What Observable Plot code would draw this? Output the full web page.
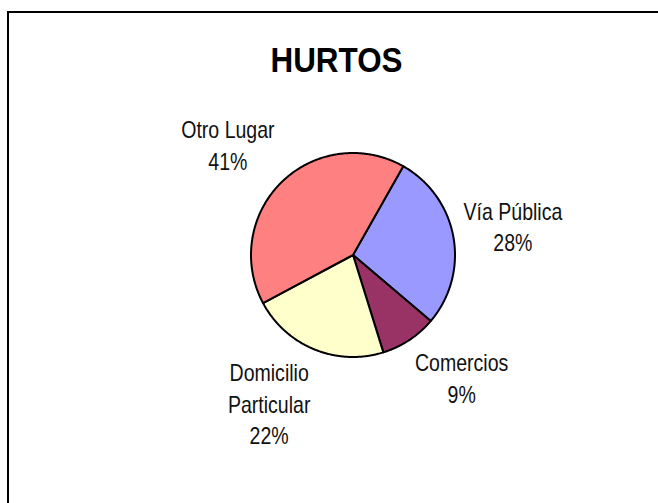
<!DOCTYPE html>
<html><head><meta charset="utf-8">
<script src="https://cdn.jsdelivr.net/npm/d3@7"></script>
<script src="https://cdn.jsdelivr.net/npm/@observablehq/plot@0.6"></script>
<style>
html,body{margin:0;padding:0;background:#fff;}
#wrap{position:relative;width:658px;height:503px;overflow:hidden;background:#fff;}
#border{position:absolute;left:7px;top:11px;width:700px;height:600px;border-top:2px solid #000;border-left:2px solid #000;}
#chart{position:absolute;left:0;top:0;}
</style></head><body>
<div id="wrap"><div id="border"></div><div id="chart"></div></div>
<script>
// ---- data ----
const title = "HURTOS";
const categories = ["Vía Pública", "Comercios", "Domicilio Particular", "Otro Lugar"];
const labelLines = [["Vía Pública"], ["Comercios"], ["Domicilio", "Particular"], ["Otro Lugar"]];
const values = [28, 9, 22, 41]; // percent
const colors = ["#9999FF", "#993366", "#FFFFCC", "#FF8080"];

// ---- layout ----
const W = 658, H = 503;
const cx = 352.5, cy = 254.5, R = 102;
const startDeg = 29.5;
const labelR = 1.1;
const fontSize = 23, lineH = 31.6;
const narrow = 0.85; // horizontal compression (Arial Narrow look)
const labelFont = '"Liberation Sans", Arial, sans-serif';
const rad = Math.PI / 180;
const total = d3.sum(values);

const ctx = document.createElement("canvas").getContext("2d");
ctx.font = `${fontSize}px ${labelFont}`;

const slicePts = [];
const labels = [];
let cum = 0;
categories.forEach((name, i) => {
  const a0 = startDeg + cum / total * 360;
  const a1 = a0 + values[i] / total * 360;
  cum += values[i];
  slicePts.push({name, color: colors[i], x: 0, y: 0});
  const n = Math.max(2, Math.ceil((a1 - a0) / 0.5));
  for (let k = 0; k <= n; k++) {
    const a = (a0 + (a1 - a0) * k / n) * rad;
    slicePts.push({name, color: colors[i], x: Math.sin(a), y: Math.cos(a)});
  }
  slicePts.push({name, color: colors[i], x: 0, y: 0});

  const mid = (a0 + a1) / 2 * rad;
  const s = Math.sin(mid), c = Math.cos(mid);
  const lines = [...labelLines[i], `${values[i]}%`];
  const w = narrow * d3.max(lines, t => ctx.measureText(t).width);
  const ax = labelR * s, ay = labelR * c;
  const side = s >= 0 ? 1 : -1;
  const f = Math.max(0, Math.min(1, 0.5 + 0.6 * c));
  const h = lines.length * lineH;
  const boxTop = ay + f * h / R;
  labels.push({
    text: lines.join("\n"),
    x: ax + side * w / 2 / R,
    y: boxTop
  });
});

const chart = Plot.plot({
  width: W, height: H, margin: 0,
  style: {background: "transparent", overflow: "visible"},
  x: {domain: [-cx / R, (W - cx) / R], axis: null},
  y: {domain: [-(H - cy) / R, cy / R], axis: null},
  color: {type: "identity"},
  marks: [
    Plot.line(slicePts, {x: "x", y: "y", z: "name", fill: "color", stroke: "#000", strokeWidth: 2, strokeLinejoin: "round"}),
    Plot.text(labels, {x: "x", y: "y", text: "text", textAnchor: "middle", lineAnchor: "top",
      lineHeight: lineH / fontSize, fontSize, fontFamily: labelFont, fill: "#111"}),
    Plot.text([title], {frameAnchor: "top", dx: 7, dy: 46.7, lineAnchor: "top", fontSize: 35,
      fontWeight: "bold", fontFamily: '"Liberation Sans", Arial, sans-serif', fill: "#000"})
  ]
});
d3.select(chart).selectAll("text").each(function() {
  const el = d3.select(this);
  if (this.textContent === title) {
    el.attr("textLength", 132).attr("lengthAdjust", "spacingAndGlyphs");
  } else if (this.querySelector("tspan") || labels.some(l => l.text.replace(/\n/g, "") === this.textContent)) {
    const t = el.attr("transform") || "";
    el.attr("transform", `${t} scale(${narrow},1)`);
  }
});
document.getElementById("chart").appendChild(chart);
</script>
</body></html>
